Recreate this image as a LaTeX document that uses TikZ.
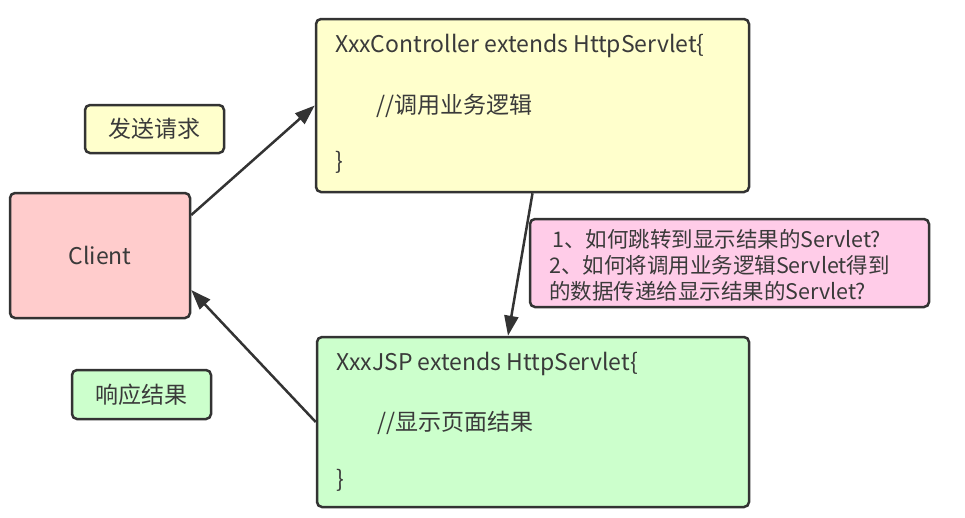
\documentclass[tikz,border=0pt]{standalone}
\usepackage{fontspec}
\newfontfamily\cjk{Noto Sans CJK SC}
\usetikzlibrary{arrows.meta}
\definecolor{boxline}{HTML}{333333}
\definecolor{txt}{HTML}{3A3A3A}
\definecolor{yel}{HTML}{FFFFCC}
\definecolor{red}{HTML}{FFCCCC}
\definecolor{grn}{HTML}{CCFFCC}
\definecolor{pnk}{HTML}{FFCCE8}
\tikzset{
  box/.style={draw=boxline, line width=2.5pt, rounded corners=5pt, inner sep=0pt},
  lbl/.style={font=\cjk\fontsize{23}{28}\selectfont, text=txt},
  notetext/.style={font=\cjk\fontsize{21.5}{26}\selectfont, text=txt},
  codeline/.style={lbl, anchor=west, inner sep=0pt},
  conn/.style={draw=boxline, line width=2.5pt, -{Triangle[length=20pt,width=14pt]}}
}
\begin{document}
\begin{tikzpicture}[x=1pt,y=-1pt]
\useasboundingbox (0,0) rectangle (965,517);
% Client
\node[box, fill=red, minimum width=180pt, minimum height=125pt, lbl] (client) at (100,255.5) {Client};
% labels
\node[box, fill=yel, minimum width=139pt, minimum height=48pt, lbl] (send) at (154.5,129) {发送请求};
\node[box, fill=grn, minimum width=139pt, minimum height=49pt, lbl] (resp) at (141.5,394.5) {响应结果};
% controller
\node[box, fill=yel, minimum width=433pt, minimum height=173pt] (ctrl) at (532.5,105.5) {};
\node[codeline] (c1) at (335,46) {XxxController extends HttpServlet\{};
\node[codeline] (c2) at (376,106) {//调用业务逻辑};
\node[codeline] (c3) at (335,162) {\}};
% jsp
\node[box, fill=grn, minimum width=432pt, minimum height=170pt] (jsp) at (533,422) {};
\node[codeline] (j1) at (336,364) {XxxJSP extends HttpServlet\{};
\node[codeline] (j2) at (377,423) {//显示页面结果};
\node[codeline] (j3) at (336,480) {\}};
% note
\node[box, fill=pnk, minimum width=399pt, minimum height=88pt] (note) at (729.5,263) {};
\node[notetext, anchor=west, inner sep=0pt, align=left] (n1) at (549,265) {\hspace*{3pt}1、如何跳转到显示结果的Servlet?\\2、如何将调用业务逻辑Servlet得到\\的数据传递给显示结果的Servlet?};
% connectors
\draw[conn] ([yshift=40.5pt]client.east) -- (ctrl.west);
\draw[conn] (jsp.west) -- ([yshift=-34.5pt]client.east);
\draw[conn] (ctrl.south) -- ([xshift=-25pt]jsp.north);
\end{tikzpicture}
\end{document}
